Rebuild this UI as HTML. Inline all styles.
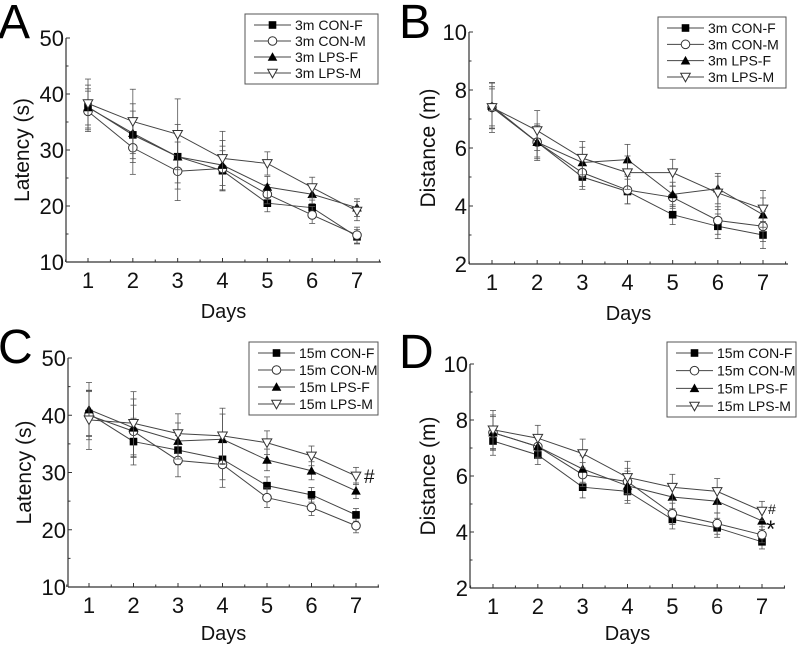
<!DOCTYPE html>
<html><head><meta charset="utf-8"><style>
html,body{margin:0;padding:0;background:#fff;}
svg{display:block;font-family:"Liberation Sans",Arial,sans-serif;}
</style></head><body>
<svg id="fig" width="797" height="648" viewBox="0 0 797 648"></svg>
<script>
const days = [1,2,3,4,5,6,7];
const seriesNames = ["CON-F","CON-M","LPS-F","LPS-M"];
const markers = ["sq","circ","tri","tridown"];
// Panel A latency 3m
const aConF = [37.7,32.7,28.8,26.3,20.5,19.7,14.5];
const aConM = [36.9,30.4,26.2,26.7,22.1,18.4,14.8];
const aLpsF = [37.6,33.0,28.8,27.3,23.4,22.1,19.7];
const aLpsM = [38.3,35.1,32.8,28.5,27.6,23.3,19.1];
const aErr = [3.8,5.0,5.5,4.2,1.8,1.6,1.5];
// Panel B distance 3m
const bConF = [7.4,6.2,5.0,4.5,3.7,3.3,3.0];
const bConM = [7.4,6.2,5.15,4.55,4.3,3.5,3.3];
const bLpsF = [7.45,6.2,5.5,5.6,4.4,4.6,3.7];
const bLpsM = [7.4,6.6,5.65,5.15,5.15,4.45,3.9];
const bErr = [0.75,0.6,0.5,0.5,0.4,0.5,0.55];
// Panel C latency 15m
const cConF = [40.3,35.4,33.9,32.3,27.7,26.1,22.6];
const cConM = [40.0,37.2,32.1,31.4,25.6,23.9,20.7];
const cLpsF = [41.0,37.8,35.5,35.8,32.2,30.3,26.8];
const cLpsM = [39.2,38.6,36.8,36.4,35.2,32.9,29.4];
const cErr = [4.5,4.8,3.0,4.2,1.8,1.5,1.3];
// Panel D distance 15m
const dConF = [7.25,6.75,5.6,5.45,4.45,4.15,3.65];
const dConM = [7.55,7.05,6.05,5.8,4.65,4.3,3.9];
const dLpsF = [7.55,7.05,6.25,5.65,5.25,5.1,4.4];
const dLpsM = [7.65,7.35,6.8,5.95,5.6,5.45,4.75];
const dErr = [0.6,0.4,0.45,0.5,0.4,0.4,0.3];
const latTicks = [10,20,30,40,50];
const distTicks = [2,4,6,8,10];

const NS="http://www.w3.org/2000/svg";
const svg=document.getElementById('fig');
function mk(tag,attrs,parent){const e=document.createElementNS(NS,tag);for(const k in attrs)e.setAttribute(k,attrs[k]);(parent||svg).appendChild(e);return e;}

const panels=[
 {id:'a',letter:'A',lx:-2,ly:38,ax:66,axEnd:381,x1:88,x7:357,yTop:38,yBot:262,ymin:10,ymax:50,ticks:latTicks,minor:5,ylab:'Latency (s)',ylx:22,data:[aConF,aConM,aLpsF,aLpsM],err:aErr,prefix:'3m',leg:[245,14,133,70],daysY:318},
 {id:'b',letter:'B',lx:399,ly:38,ax:469,axEnd:788,x1:492,x7:763,yTop:32,yBot:264,ymin:2,ymax:10,ticks:distTicks,minor:1,ylab:'Distance (m)',ylx:428,data:[bConF,bConM,bLpsF,bLpsM],err:bErr,prefix:'3m',leg:[658,17,128,71],daysY:320},
 {id:'c',letter:'C',lx:-2,ly:363,ax:68,axEnd:379,x1:89,x7:356,yTop:358,yBot:587,ymin:10,ymax:50,ticks:latTicks,minor:5,ylab:'Latency (s)',ylx:24,data:[cConF,cConM,cLpsF,cLpsM],err:cErr,prefix:'15m',leg:[249,342,129,73],daysY:640},
 {id:'d',letter:'D',lx:399,ly:368,ax:470,axEnd:785,x1:493,x7:762,yTop:364,yBot:588,ymin:2,ymax:10,ticks:distTicks,minor:1,ylab:'Distance (m)',ylx:428,data:[dConF,dConM,dLpsF,dLpsM],err:dErr,prefix:'15m',leg:[667,342,129,75],daysY:640}
];

function marker(g,type,x,y,s){
  let e;
  if(type==='sq') e=mk('rect',{x:x-s,y:y-s,width:2*s,height:2*s,fill:'#000'},g);
  else if(type==='circ') e=mk('circle',{cx:x,cy:y,r:s+0.5,fill:'#fff',stroke:'#333','stroke-width':1},g);
  else if(type==='tri') e=mk('polygon',{points:`${x},${y-s-1} ${x+s+1},${y+s} ${x-s-1},${y+s}`,fill:'#000'},g);
  else e=mk('polygon',{points:`${x-s-1},${y-s} ${x+s+1},${y-s} ${x},${y+s+1}`,fill:'#fff',stroke:'#333','stroke-width':1},g);
  return e;
}

panels.forEach(p=>{
  const g=mk('g',{});
  
  
  const X=d=>p.x1+(d-1)*(p.x7-p.x1)/6;
  const Y=v=>p.yBot-(v-p.ymin)*(p.yBot-p.yTop)/(p.ymax-p.ymin);
  const L=mk('text',{x:p.lx,y:p.ly,'font-size':48,fill:'#000'},g);L.textContent=p.letter;
  
  
  mk('line',{x1:p.ax,y1:p.yTop,x2:p.ax,y2:p.yBot,stroke:'#333','stroke-width':1.2},g);
  mk('line',{x1:p.ax,y1:p.yBot,x2:p.axEnd,y2:p.yBot,stroke:'#333','stroke-width':1.2},g);
  p.ticks.forEach(t=>{
    mk('line',{x1:p.ax,y1:Y(t),x2:p.ax+4,y2:Y(t),stroke:'#333'},g);
    const tt=mk('text',{x:p.ax-2,y:Y(t)+8,'font-size':22,'text-anchor':'end',fill:'#111'},g);tt.textContent=t;
    
    
  });
  for(let v=p.ymin+p.minor;v<p.ymax;v+=2*p.minor) mk('line',{x1:p.ax,y1:Y(v),x2:p.ax+2.5,y2:Y(v),stroke:'#333'},g);
  days.forEach(d=>{
    mk('line',{x1:X(d),y1:p.yBot,x2:X(d),y2:p.yBot-4,stroke:'#333'},g);
    mk('line',{x1:X(d+0.5),y1:p.yBot,x2:X(d+0.5),y2:p.yBot-2.5,stroke:'#333'},g);
    const tt=mk('text',{x:X(d),y:p.yBot+26,'font-size':22,'text-anchor':'middle',fill:'#111'},g);tt.textContent=d;
    
    
  });
  mk('line',{x1:X(0.5),y1:p.yBot,x2:X(0.5),y2:p.yBot-2.5,stroke:'#333'},g);
  const xl=mk('text',{x:(p.ax+p.axEnd)/2,y:p.daysY,'font-size':20,'text-anchor':'middle',fill:'#111'},g);xl.textContent='Days';
  
  
  const yc=(p.yTop+p.yBot)/2;
  const yl=mk('text',{x:p.ylx,y:yc,'font-size':21,'text-anchor':'middle',fill:'#111',transform:`rotate(-90 ${p.ylx} ${yc}) translate(0 7)`},g);yl.textContent=p.ylab;
  
  
  p.data.forEach((arr,si)=>{
    const sg=mk('g',{},g);
    
    
    arr.forEach((v,i)=>{
      const e=p.err[i]*(0.85+0.1*si);
      mk('line',{x1:X(days[i]),y1:Y(v-e),x2:X(days[i]),y2:Y(v+e),stroke:'#555','stroke-width':0.8},sg);
      mk('line',{x1:X(days[i])-3,y1:Y(v-e),x2:X(days[i])+3,y2:Y(v-e),stroke:'#555','stroke-width':0.8},sg);
      mk('line',{x1:X(days[i])-3,y1:Y(v+e),x2:X(days[i])+3,y2:Y(v+e),stroke:'#555','stroke-width':0.8},sg);
    });
    mk('polyline',{points:arr.map((v,i)=>X(days[i])+','+Y(v)).join(' '),fill:'none',stroke:'#444','stroke-width':1},sg);
    arr.forEach((v,i)=>{
      const m=marker(sg,markers[si],X(days[i]),Y(v),3.8);
      
      
    });
  });
  const [lx,ly,lw,lh]=p.leg;
  const lg=mk('g',{},g);
  
  
  mk('rect',{x:lx,y:ly,width:lw,height:lh,fill:'#fff',stroke:'#555','stroke-width':1},lg);
  seriesNames.forEach((n,i)=>{
    const ry=ly+11+i*(lh-22)/3;
    const lx0=lx+9,lx1=lx+46;
    mk('line',{x1:lx0,y1:ry,x2:lx1,y2:ry,stroke:'#444'},lg);
    marker(lg,markers[i],(lx0+lx1)/2,ry,3.8);
    const t=mk('text',{x:lx1+4,y:ry+5,'font-size':14,fill:'#111'},lg);t.textContent=p.prefix+' '+n;
    
    
  });
});
const h1=mk('text',{x:364,y:483,'font-size':19,fill:'#111'});h1.textContent='#';


const h2=mk('text',{x:768,y:514,'font-size':14,fill:'#111'});h2.textContent='#';


const h3=mk('text',{x:766,y:537,'font-size':24,fill:'#111'});h3.textContent='*';


</script>
</body></html>
